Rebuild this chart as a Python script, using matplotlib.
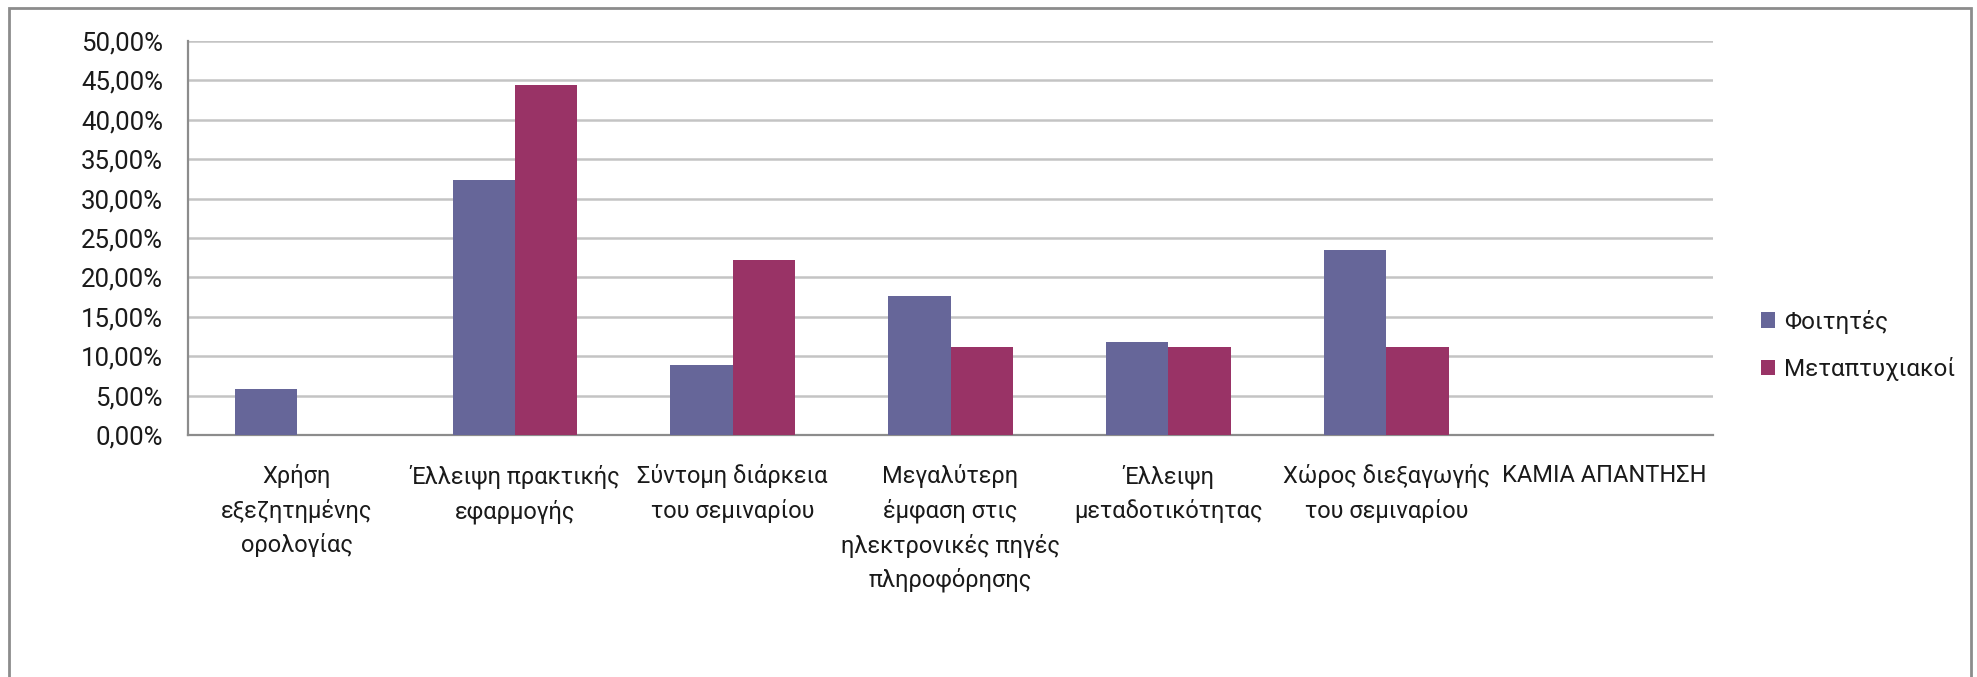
import matplotlib.pyplot as plt
import numpy as np
from matplotlib.patches import Rectangle
from matplotlib.ticker import FuncFormatter

plt.rcParams['font.family'] = ['Roboto', 'DejaVu Sans']

# Κατηγορίες (ετικέτες άξονα x)
categories = [
    'Χρήση\nεξεζητημένης\nορολογίας',
    'Έλλειψη πρακτικής\nεφαρμογής',
    'Σύντομη διάρκεια\nτου σεμιναρίου',
    'Μεγαλύτερη\nέμφαση στις\nηλεκτρονικές πηγές\nπληροφόρησης',
    'Έλλειψη\nμεταδοτικότητας',
    'Χώρος διεξαγωγής\nτου σεμιναρίου',
    'ΚΑΜΙΑ ΑΠΑΝΤΗΣΗ',
]
series_names = ['Φοιτητές', 'Μεταπτυχιακοί']
foitites = [5.88, 32.35, 8.82, 17.65, 11.76, 23.53, 0.0]
metaptyxiakoi = [0.0, 44.44, 22.22, 11.11, 11.11, 11.11, 0.0]

col_f = '#666699'
col_m = '#993366'

fig = plt.figure(figsize=(19.77, 6.77), dpi=100)
ax = fig.add_axes([0.0951, 0.3575, 0.7714, 0.5820])

x = np.arange(len(categories))
w = 1 / 3.5
ax.bar(x - w / 2, foitites, w, color=col_f, label=series_names[0], zorder=3)
ax.bar(x + w / 2, metaptyxiakoi, w, color=col_m, label=series_names[1], zorder=3)

ax.set_xlim(-0.5, len(categories) - 0.5)
ax.set_ylim(0, 50)
ax.set_yticks(np.arange(0, 51, 5))
ax.yaxis.set_major_formatter(FuncFormatter(lambda v, p: f'{v:.2f}%'.replace('.', ',')))
ax.grid(axis='y', color='#c4c4c4', linewidth=1.8, zorder=0)
ax.set_xticks(x)
ax.set_xticklabels(categories, linespacing=1.55)
ax.tick_params(axis='x', length=0, pad=21, labelsize=17, colors='#1a1a1a')
ax.tick_params(axis='y', length=0, pad=18, labelsize=18.5, colors='#1a1a1a')

for s in ['top', 'right']:
    ax.spines[s].set_visible(False)
for s in ['left', 'bottom']:
    ax.spines[s].set_color('#8c8c8c')
    ax.spines[s].set_linewidth(1.6)

leg = fig.legend(loc='center left', bbox_to_anchor=(0.8795, 0.49), frameon=False,
                 fontsize=17.5, handlelength=0.6, handleheight=0.6, handletextpad=0.35,
                 labelspacing=0.95)
for t in leg.get_texts():
    t.set_color('#1a1a1a')

fig.patches.append(Rectangle((0.0046, -0.02), 0.9924, 1.008, transform=fig.transFigure,
                             fill=False, edgecolor='#8c8c8c', linewidth=2))

fig.savefig('out.png', dpi=100)
